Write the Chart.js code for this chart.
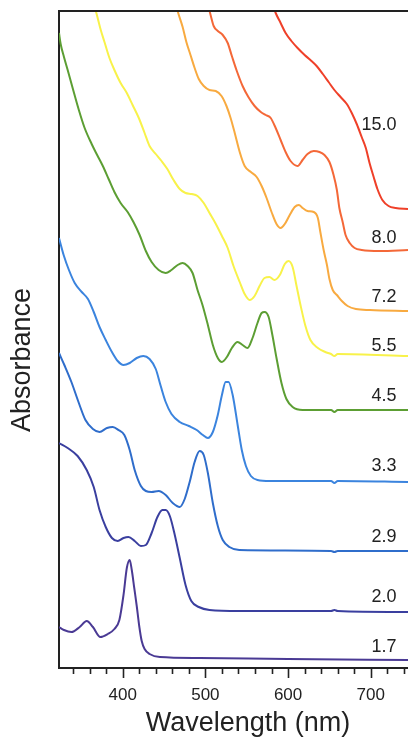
<!DOCTYPE html>
<html>
<head>
<meta charset="utf-8">
<script src="https://cdn.jsdelivr.net/npm/chart.js@4.4.1/dist/chart.umd.min.js"></script>
<style>
  html, body { margin: 0; padding: 0; background: #fff; }
  #wrap { width: 408px; height: 738px; position: relative; }
</style>
</head>
<body>
<div id="wrap"><canvas id="spectra"></canvas></div>
<script>
// pH series, bottom to top
const phLabels = ["1.7", "2.0", "2.9", "3.3", "4.5", "5.5", "7.2", "8.0", "15.0"];

// wavelength (nm) / offset absorbance
const wl17 = [323, 329, 338, 348, 356.5, 364, 373, 382, 390, 396, 401, 405, 408.5, 411, 414, 417, 420, 423, 426.5, 432.5, 445, 493, 600, 745];
const a17 = [0.41, 0.38, 0.36, 0.41, 0.47, 0.41, 0.31, 0.34, 0.39, 0.48, 0.73, 1.00, 1.08, 0.98, 0.80, 0.62, 0.42, 0.27, 0.19, 0.14, 0.11, 0.10, 0.09, 0.08];

const wl20 = [323, 333.5, 345.5, 356.5, 365, 372, 379.5, 387, 394, 401, 407, 414.5, 422, 428, 435, 442, 448, 452, 457, 463, 469, 476, 483, 492, 505, 541, 652, 656, 660, 745];
const a20 = [2.25, 2.20, 2.12, 1.98, 1.81, 1.58, 1.41, 1.30, 1.27, 1.30, 1.31, 1.27, 1.22, 1.23, 1.35, 1.51, 1.58, 1.58, 1.52, 1.33, 1.10, 0.83, 0.67, 0.61, 0.58, 0.57, 0.57, 0.58, 0.57, 0.56];

const wl29 = [323, 330, 338, 347, 355, 364, 372, 381, 388, 395, 402, 408.5, 414.5, 422, 428, 435, 443.5, 452, 460.5, 469, 475, 481, 487, 493, 498, 503, 509, 515, 521, 529, 541, 652, 656, 660, 745];
const a29 = [3.15, 3.02, 2.86, 2.65, 2.48, 2.39, 2.36, 2.40, 2.41, 2.38, 2.33, 2.18, 1.98, 1.82, 1.77, 1.76, 1.77, 1.73, 1.65, 1.61, 1.69, 1.86, 2.06, 2.17, 2.13, 1.95, 1.65, 1.42, 1.28, 1.21, 1.18, 1.17, 1.16, 1.17, 1.17];

const wl33 = [323, 329, 335, 342, 350.5, 358, 365, 372, 379.5, 387, 394, 401, 408.5, 417, 425, 432.5, 440, 446, 452, 459, 469, 480, 489.5, 497, 503, 509, 515, 520, 524.5, 528, 533, 539, 544, 549, 555, 563, 578, 652, 656, 660, 745];
const a33 = [4.30, 4.12, 3.98, 3.85, 3.76, 3.69, 3.56, 3.41, 3.28, 3.16, 3.07, 3.03, 3.05, 3.10, 3.12, 3.09, 2.99, 2.82, 2.66, 2.54, 2.46, 2.42, 2.38, 2.33, 2.30, 2.36, 2.53, 2.73, 2.86, 2.86, 2.73, 2.43, 2.18, 2.02, 1.92, 1.88, 1.87, 1.87, 1.85, 1.87, 1.86];

const wl45 = [323, 325, 329, 333.5, 339.5, 347, 354, 362.5, 368.5, 376, 383, 390, 397.5, 406, 413, 420.5, 428, 435, 443.5, 452, 459, 466.5, 472.5, 478.5, 484.5, 490.5, 496.5, 503, 509, 515, 520, 526, 532, 539, 545, 551, 557, 563, 568, 571.5, 576.5, 581, 586, 592, 598, 605.5, 617.5, 652, 656, 660, 745];
const a45 = [6.35, 6.24, 6.11, 5.98, 5.80, 5.58, 5.40, 5.24, 5.14, 5.02, 4.89, 4.76, 4.65, 4.56, 4.46, 4.33, 4.17, 4.06, 3.98, 3.95, 3.98, 4.03, 4.05, 4.02, 3.95, 3.78, 3.63, 3.43, 3.23, 3.10, 3.06, 3.11, 3.20, 3.26, 3.23, 3.20, 3.30, 3.45, 3.55, 3.56, 3.51, 3.33, 3.10, 2.85, 2.69, 2.61, 2.58, 2.58, 2.56, 2.58, 2.58];

const wl55 = [365, 368.5, 373.5, 378, 384, 390, 397.5, 405, 412, 419.5, 426.5, 432.5, 440, 447, 454, 461.5, 469, 476, 483.5, 490.5, 498, 505, 512, 520, 527, 534, 541.5, 547.5, 553.5, 559.5, 565.5, 571.5, 577.5, 583.5, 590, 596, 600.5, 605.5, 610, 615, 621, 627, 636, 645, 652, 656, 660, 745];
const a55 = [6.64, 6.54, 6.38, 6.26, 6.10, 5.98, 5.85, 5.75, 5.63, 5.50, 5.35, 5.22, 5.14, 5.07, 4.99, 4.88, 4.79, 4.75, 4.74, 4.72, 4.65, 4.55, 4.45, 4.32, 4.20, 4.02, 3.86, 3.74, 3.68, 3.72, 3.82, 3.90, 3.91, 3.88, 3.93, 4.04, 4.07, 4.01, 3.83, 3.63, 3.42, 3.28, 3.20, 3.16, 3.14, 3.12, 3.14, 3.12];

const wl72 = [464, 467.5, 472.5, 477, 482, 487, 492, 498, 505, 512.5, 519.5, 525.5, 530.5, 535.5, 541.5, 547.5, 555, 562, 568, 574, 580, 586, 591, 596, 602, 608, 613, 617.5, 623.5, 631, 636, 639, 643, 647, 650, 654, 659, 665, 672, 682, 699, 745];
const a72 = [6.64, 6.54, 6.41, 6.26, 6.13, 6.00, 5.89, 5.82, 5.78, 5.77, 5.72, 5.62, 5.50, 5.35, 5.16, 5.02, 4.96, 4.91, 4.82, 4.70, 4.56, 4.44, 4.40, 4.44, 4.53, 4.61, 4.63, 4.60, 4.57, 4.56, 4.50, 4.36, 4.18, 4.03, 3.89, 3.78, 3.73, 3.67, 3.62, 3.59, 3.58, 3.57];

const wl80 = [503, 506, 510, 515, 521, 527, 532, 538, 545, 552, 559.5, 567, 573, 579, 585, 591, 597, 603, 611.5, 617.5, 623.5, 631, 638, 644, 650, 655, 659, 662, 666, 669.5, 674.5, 680.5, 689, 711, 745];
const a80 = [6.64, 6.54, 6.42, 6.37, 6.33, 6.25, 6.12, 5.97, 5.82, 5.71, 5.62, 5.56, 5.53, 5.50, 5.40, 5.28, 5.16, 5.07, 5.02, 5.08, 5.14, 5.17, 5.16, 5.13, 5.06, 4.93, 4.78, 4.60, 4.46, 4.33, 4.25, 4.20, 4.18, 4.17, 4.18];

const wl150 = [581, 585, 591, 597, 604, 611.5, 620, 627, 634.5, 642, 649, 656, 663.5, 671, 677, 683, 689, 694, 698.5, 703.5, 708, 714, 721.5, 730, 745];
const a150 = [6.64, 6.55, 6.45, 6.35, 6.27, 6.20, 6.13, 6.08, 6.02, 5.94, 5.86, 5.78, 5.71, 5.64, 5.55, 5.44, 5.31, 5.20, 5.05, 4.91, 4.79, 4.68, 4.62, 4.60, 4.59];

const xTicks = [400, 500, 600, 700];

// where each pH label sits (absorbance units, right edge at 731 nm)
const labelY = [0.21, 0.71, 1.31, 2.02, 2.72, 3.22, 3.71, 4.30, 5.43];

const colors = ["#4a3a94", "#3a3f9f", "#2f6dcb", "#3b84de", "#5c9e33", "#f8f24a", "#f8aa40", "#f46838", "#ef4029"];

function pts(xs, ys) {
  if (xs.length !== ys.length) console.warn("length mismatch", xs.length, ys.length);
  return xs.map((x, i) => ({ x: x, y: ys[i] }));
}

const series = [
  pts(wl17, a17), pts(wl20, a20), pts(wl29, a29), pts(wl33, a33), pts(wl45, a45),
  pts(wl55, a55), pts(wl72, a72), pts(wl80, a80), pts(wl150, a150)
];

const FONT = "'Liberation Sans', Arial, Helvetica, sans-serif";
const INK = "#222";

// frame top line, tick marks, axis titles, pH labels
const decor = {
  id: "decor",
  afterDraw(chart) {
    const { ctx, chartArea: a, scales: { x, y } } = chart;
    ctx.save();
    ctx.strokeStyle = INK;
    ctx.lineWidth = 2;
    ctx.beginPath();
    ctx.moveTo(a.left - 1, a.top);
    ctx.lineTo(a.right, a.top);
    ctx.stroke();

    ctx.lineWidth = 1.6;
    for (let v = 340; v <= 740; v += 20) {
      const px = Math.round(x.getPixelForValue(v)) + 0.5;
      const len = v % 100 === 0 ? 10 : 6;
      ctx.beginPath();
      ctx.moveTo(px, a.bottom);
      ctx.lineTo(px, a.bottom + len);
      ctx.stroke();
    }

    ctx.fillStyle = INK;
    ctx.font = "18px " + FONT;
    ctx.textAlign = "right";
    ctx.textBaseline = "middle";
    phLabels.forEach((t, i) => {
      ctx.fillText(t, x.getPixelForValue(731), y.getPixelForValue(labelY[i]));
    });

    ctx.font = "27px " + FONT;
    ctx.textAlign = "center";
    ctx.textBaseline = "middle";
    ctx.fillText("Wavelength (nm)", 248, 724);

    ctx.translate(23, 360);
    ctx.rotate(-Math.PI / 2);
    ctx.fillText("Absorbance", 0, 0);
    ctx.restore();
  }
};

const config = {
  type: "line",
  data: {
    datasets: series.map((d, i) => ({
      label: phLabels[i],
      data: d,
      borderColor: colors[i],
      borderWidth: 2,
      pointRadius: 0,
      fill: false,
      cubicInterpolationMode: "monotone"
    }))
  },
  options: {
    responsive: true,
    maintainAspectRatio: false,
    animation: false,
    layout: { padding: { top: 11, left: 0, right: 0, bottom: 0 } },
    plugins: {
      legend: { display: false },
      tooltip: { enabled: false }
    },
    scales: {
      x: {
        type: "linear",
        min: 323,
        max: 745,
        afterFit(s) { s.height = 70; },
        afterBuildTicks(s) { s.ticks = xTicks.map(v => ({ value: v })); },
        grid: { display: false },
        border: { display: true, color: INK, width: 2 },
        ticks: {
          color: INK,
          padding: 9,
          font: { family: FONT, size: 17 }
        }
      },
      y: {
        min: 0,
        max: 6.57,
        afterFit(s) { s.width = 59; },
        grid: { display: false },
        border: { display: true, color: INK, width: 2 },
        ticks: { display: false }
      }
    }
  },
  plugins: [decor]
};

const spectraChart = new Chart(document.getElementById("spectra"), config);
</script>
</body>
</html>
